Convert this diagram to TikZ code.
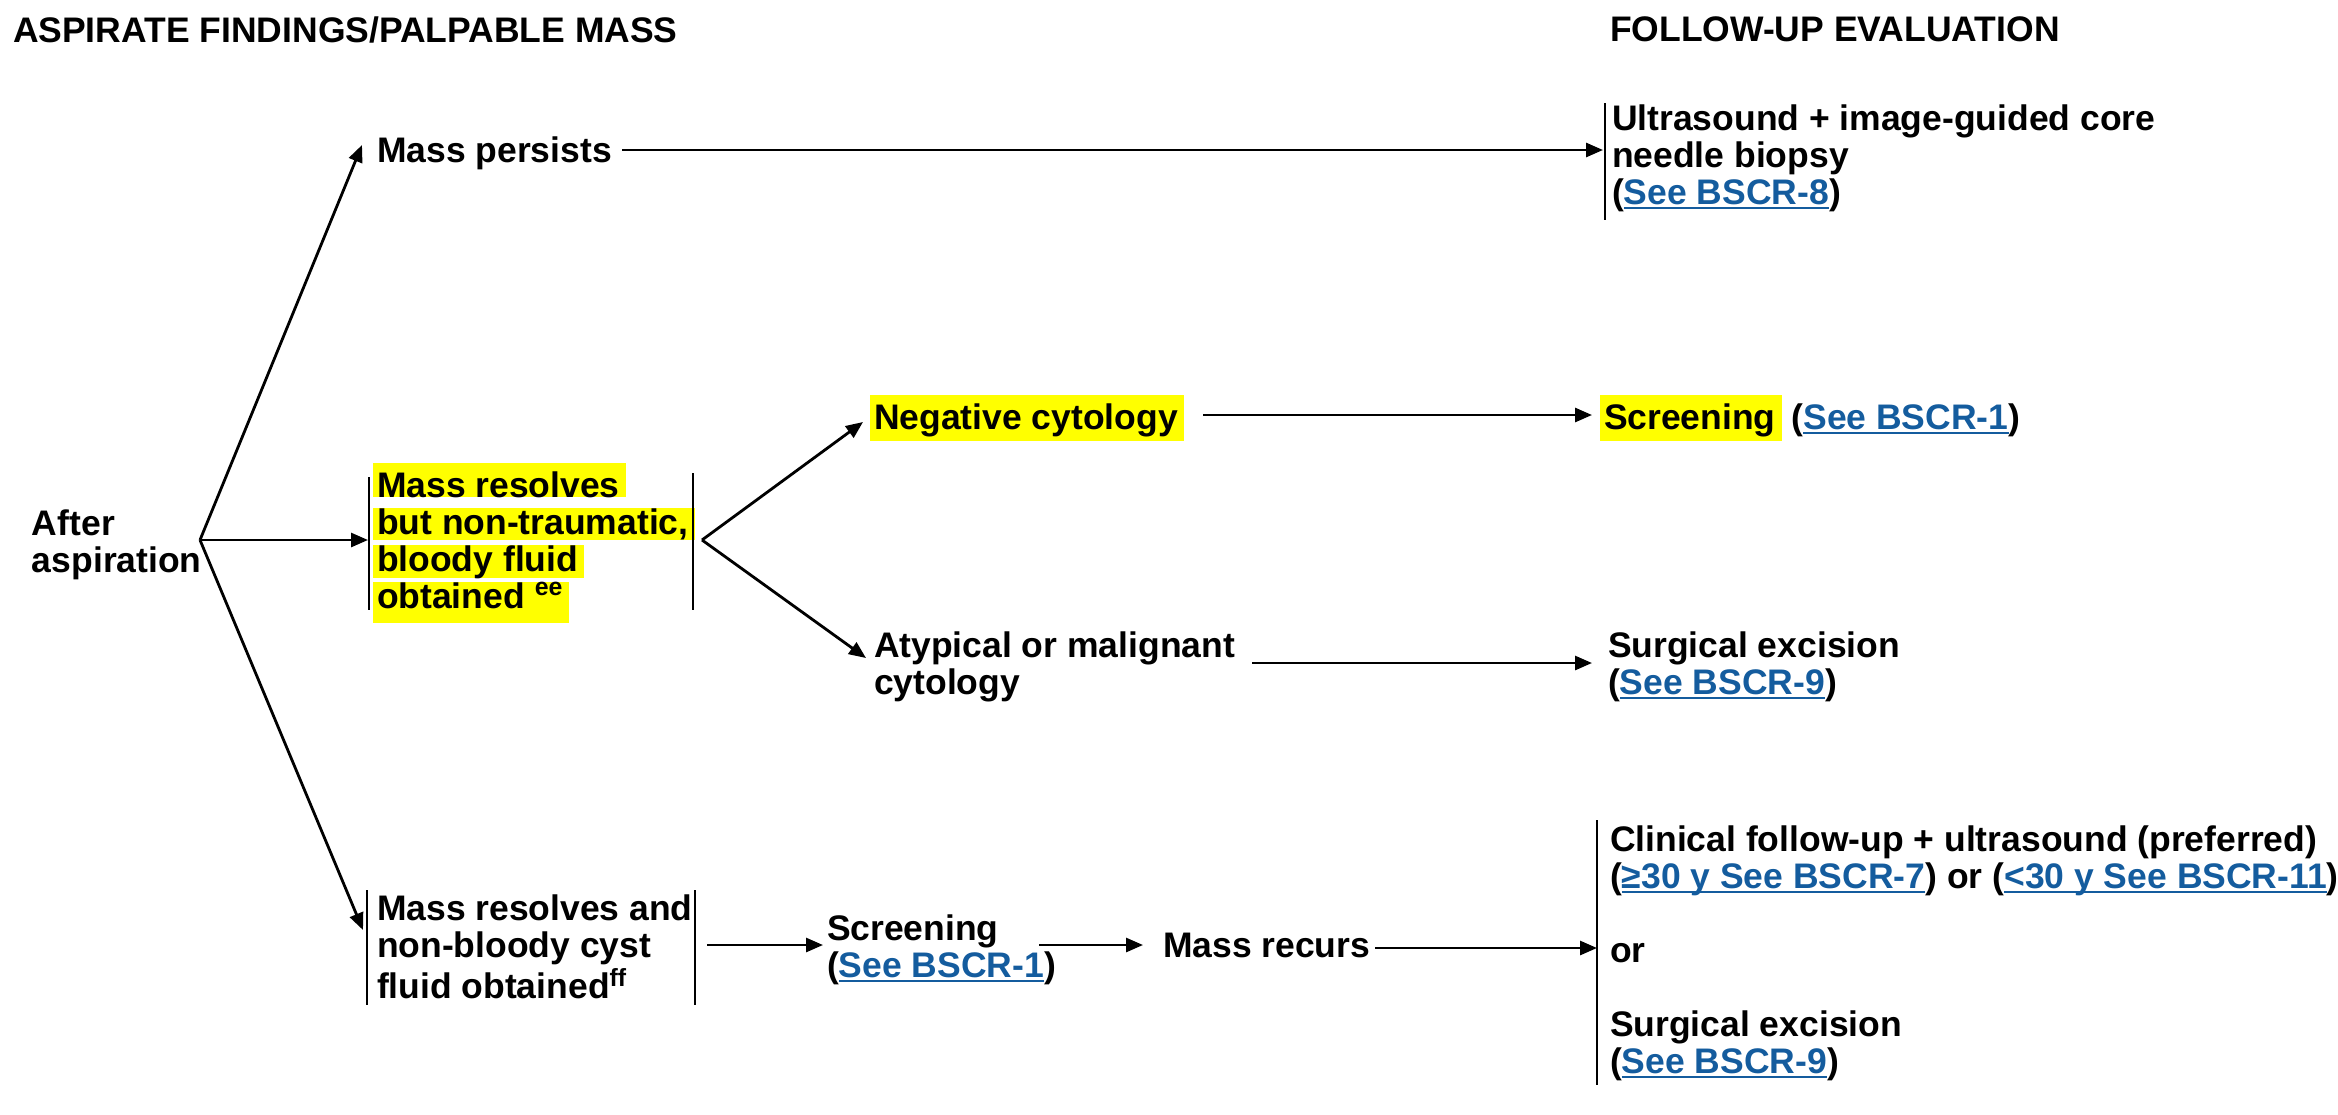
\documentclass[tikz,border=0pt]{standalone}
\usepackage{fontspec}
\setmainfont{Liberation Sans}
\usepackage{xcolor}
\usetikzlibrary{arrows.meta}
\definecolor{linkblue}{RGB}{20,92,158}
\definecolor{hlyellow}{RGB}{255,255,0}
\newsavebox\lnkbox
\newcommand\lnk[1]{{\color{linkblue}\sbox\lnkbox{#1}\rlap{\rule[-2.6pt]{\wd\lnkbox}{0.9pt}}\usebox\lnkbox}}
\newcommand\hlx[3]{{\setlength\fboxsep{0pt}\hspace*{-2pt}\colorbox{hlyellow}{\hspace{2pt}\rule[-#2]{0pt}{\dimexpr#1+#2\relax}#3\hspace{3pt}}}}
\newcommand\tl[1]{\begin{tabular}[t]{@{}l@{}}#1\end{tabular}}
\begin{document}
\begin{tikzpicture}[x=0.5pt,y=-0.5pt,
  every node/.style={inner sep=0pt, outer sep=0pt, anchor=base west,
    font=\fontsize{17.75pt}{18.5pt}\selectfont\bfseries},
  conn/.style={line width=1.4pt, -{Triangle[length=8.5pt,width=7pt]}},
  bar/.style={line width=1.3pt}]
\useasboundingbox (0,0) rectangle (2338,1114);
% headings
\node (titleL) at (13,42) {ASPIRATE FINDINGS/PALPABLE MASS};
\node (titleR) at (1610,41) {FOLLOW-UP EVALUATION};
% text nodes
\node (aa) at (32,535) {\tl{After\\aspiration}};
\node (mp) at (377,162) {Mass persists};
\node (us) at (1612,130) {\tl{Ultrasound + image-guided core\\needle biopsy\\(\lnk{See BSCR-8})}};
\node (mr1) at (377,497) {\tl{\hlx{17pt}{0.3\baselineskip}{Mass resolves}\\
  \hlx{0.7\baselineskip}{0.3\baselineskip}{but non-traumatic,}\\
  \hlx{0.7\baselineskip}{0.3\baselineskip}{bloody fluid}\\
  \hlx{0.7\baselineskip}{7.5pt}{obtained \textsuperscript{ee}}}};
\node (nc) at (874,429) {\hlx{17pt}{6pt}{Negative cytology}};
\node (sc1) at (1604,429) {\hlx{17pt}{6pt}{Screening} (\lnk{See BSCR-1})};
\node (at) at (874,657) {\tl{Atypical or malignant\\cytology}};
\node (se) at (1608,657) {\tl{Surgical excision\\(\lnk{See BSCR-9})}};
\node (mr2) at (377,920) {\tl{Mass resolves and\\non-bloody cyst\\fluid obtained\textsuperscript{ff}}};
\node (sc2) at (827,940) {\tl{Screening\\(\lnk{See BSCR-1})}};
\node (mrc) at (1163,957) {Mass recurs};
\node (cf) at (1610,851) {\tl{Clinical follow-up + ultrasound (preferred)\\
  (\lnk{≥30 y See BSCR-7}) or (\lnk{<30 y See BSCR-11})\\ \\
  or\\ \\
  Surgical excision\\
  (\lnk{See BSCR-9})}};
% bars
\coordinate (usT) at (1605,103); \coordinate (usB) at (1605,220);
\draw[bar] (usT) -- (usB);
\coordinate (m1lT) at (369,477); \coordinate (m1lB) at (369,610);
\coordinate (m1rT) at (693,473); \coordinate (m1rB) at (693,610);
\draw[bar] (m1lT) -- (m1lB);
\draw[bar] (m1rT) -- (m1rB);
\coordinate (m2lT) at (367,890); \coordinate (m2lB) at (367,1005);
\coordinate (m2rT) at (695,890); \coordinate (m2rB) at (695,1005);
\draw[bar] (m2lT) -- (m2lB);
\draw[bar] (m2rT) -- (m2rB);
\coordinate (cfT) at (1597,820); \coordinate (cfB) at (1597,1085);
\draw[bar] (cfT) -- (cfB);
% connector points
\coordinate (f1) at (200,540);
\coordinate (f2) at (702,540);
\coordinate (mpTip) at (362,145);
\coordinate (mr1In) at (368,540);
\coordinate (mr2Tip) at (363,930);
\coordinate (ncTip) at (863,422);
\coordinate (atTip) at (866,658);
\coordinate (mpOut) at (622,150); \coordinate (usIn) at (1603,150);
\coordinate (ncOut) at (1203,415); \coordinate (sc1In) at (1592,415);
\coordinate (atOut) at (1252,663); \coordinate (seIn) at (1592,663);
\coordinate (m2Out) at (707,945); \coordinate (sc2In) at (823,945);
\coordinate (sc2Out) at (1039,945); \coordinate (mrcIn) at (1143,945);
\coordinate (mrcOut) at (1375,948); \coordinate (cfIn) at (1597,948);
% connectors
\draw[conn] (f1) -- (mpTip);
\draw[conn] (f1) -- (mr1In);
\draw[conn] (f1) -- (mr2Tip);
\draw[conn] (f2) -- (ncTip);
\draw[conn] (f2) -- (atTip);
\draw[conn] (mpOut) -- (usIn);
\draw[conn] (ncOut) -- (sc1In);
\draw[conn] (atOut) -- (seIn);
\draw[conn] (m2Out) -- (sc2In);
\draw[conn] (sc2Out) -- (mrcIn);
\draw[conn] (mrcOut) -- (cfIn);
\end{tikzpicture}
\end{document}
